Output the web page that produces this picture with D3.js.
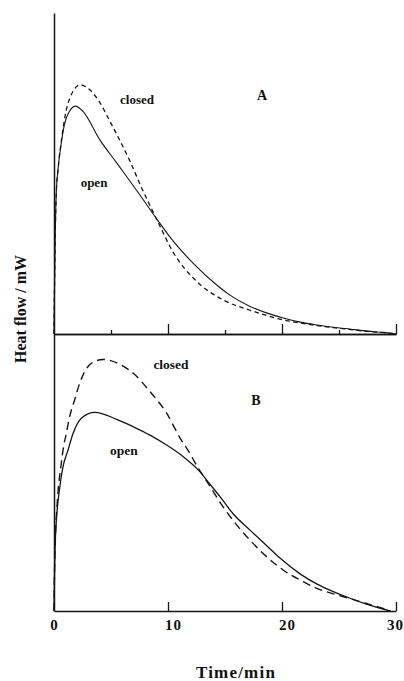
<!DOCTYPE html>
<html>
<head>
<meta charset="utf-8">
<script src="https://cdn.jsdelivr.net/npm/d3@7"></script>
<style>
  html, body { margin: 0; padding: 0; background: #fff; }
  svg { display: block; }
  text { font-family: "Liberation Serif", "DejaVu Serif", serif; font-weight: bold; fill: #111; }
</style>
</head>
<body>
<script>
// ---- Data (heat flow in arbitrary units, time in min) ----
const openA_t   = [0, 0.05, 0.1, 0.2, 0.35, 0.64, 0.94, 1.3, 1.87, 2.5, 4.04, 5.5, 7.6, 9.04, 10.53, 12.28, 14.3, 15.4, 17.2, 18.7, 20.1, 21.6, 23.1, 24.5, 26, 27.5, 28.9, 30];
const openA_v   = [0, 1.6, 2.9, 4.39, 5.11, 5.95, 6.56, 6.9, 7.10, 6.95, 6.04, 5.33, 4.3, 3.57, 2.86, 2.18, 1.52, 1.22, 0.86, 0.65, 0.50, 0.37, 0.28, 0.21, 0.15, 0.09, 0.05, 0];
const closedA_t = [0, 0.05, 0.1, 0.2, 0.35, 0.64, 1.08, 1.38, 2.31, 3.16, 4.04, 4.91, 5.79, 6.67, 7.6, 9.04, 10.53, 12.28, 14.9, 17.2, 18.7, 20.1, 21.6, 23.1, 24.5, 26, 27.5, 28.9, 30];
const closedA_v = [0, 1.6, 2.9, 4.39, 5.11, 6.0, 6.98, 7.34, 7.76, 7.60, 7.20, 6.62, 6.02, 5.38, 4.62, 3.55, 2.5, 1.72, 1.05, 0.74, 0.57, 0.44, 0.34, 0.26, 0.2, 0.14, 0.08, 0.04, 0];

const openB_t   = [0, 0.05, 0.12, 0.25, 0.5, 0.79, 1.23, 1.67, 2.4, 3.57, 5.5, 6.96, 8.42, 9.88, 11.34, 12.8, 13.5, 14.56, 15.73, 17.19, 18.68, 19.82, 21.58, 23.04, 24.5, 25.96, 27.4, 28.8, 29.5];
const openB_v   = [0, 1.5, 2.6, 3.5, 4.45, 5.21, 5.81, 6.41, 6.96, 7.17, 6.92, 6.65, 6.35, 5.99, 5.57, 5.03, 4.67, 4.13, 3.5, 2.92, 2.35, 1.91, 1.34, 0.98, 0.70, 0.46, 0.25, 0.08, 0];
const closedB_t = [0, 0.05, 0.12, 0.3, 0.64, 0.79, 1.08, 1.37, 1.81, 2.25, 2.69, 3.27, 4.3, 5.9, 6.96, 8.42, 9.88, 11.05, 11.9, 12.66, 13.5, 14.85, 16.0, 17.19, 18.68, 20.1, 21.58, 23.04, 24.5, 25.96, 27.4, 28.8, 29.5];
const closedB_v = [0, 1.5, 2.6, 4.0, 5.33, 5.81, 6.41, 7.01, 7.62, 8.22, 8.64, 8.94, 9.08, 8.88, 8.58, 7.92, 7.14, 6.25, 5.7, 5.15, 4.62, 3.75, 3.12, 2.56, 1.95, 1.48, 1.12, 0.82, 0.62, 0.45, 0.27, 0.1, 0];

const majorTicks = [10, 20, 30];
const minorTicksA = [5, 15, 25];
const bottomTickLabels = [0, 10, 20, 30];
const xLabel = "Time/min";
const yLabel = "Heat flow / mW";

// ---- Layout ----
const W = 404, H = 681;
const svg = d3.select("body").append("svg").attr("width", W).attr("height", H);

const x = d3.scaleLinear().domain([0, 30]).range([54, 396]);
const yA = d3.scaleLinear().domain([0, 10]).range([334, 13]);
const yB = d3.scaleLinear().domain([0, 10]).range([611, 334]);

const ink = "#151515";

function series(ts, vs) { return ts.map((t, i) => [t, vs[i]]); }

function drawLine(data, y, dash, w) {
  const line = d3.line().x(d => x(d[0])).y(d => y(d[1])).curve(d3.curveMonotoneX);
  svg.append("path").datum(data)
    .attr("d", line)
    .attr("fill", "none")
    .attr("stroke", ink)
    .attr("stroke-width", w)
    .attr("stroke-dasharray", dash);
}

// Curves
drawLine(series(closedA_t, closedA_v), yA, "4.5,3.5", 1.3);
drawLine(series(openA_t, openA_v), yA, null, 1.1);
drawLine(series(closedB_t, closedB_v), yB, "8,5", 1.4);
drawLine(series(openB_t, openB_v), yB, null, 1.3);

// Axes of panel A (bottom line shared with top of panel B)
function styleAxis(g) {
  g.selectAll("path.domain").attr("stroke", ink).attr("stroke-width", 1.5);
  g.selectAll(".tick line").attr("stroke", ink).attr("stroke-width", 1.3);
}
const axA = svg.append("g").attr("transform", "translate(0,334)")
  .call(d3.axisBottom(x).tickValues(majorTicks).tickSize(-10).tickSizeOuter(0).tickFormat(""));
styleAxis(axA);
const axAminor = svg.append("g").attr("transform", "translate(0,334)")
  .call(d3.axisBottom(x).tickValues(minorTicksA).tickSize(-4).tickSizeOuter(0).tickFormat(""));
styleAxis(axAminor);

// Panel B bottom axis with labels
const axB = svg.append("g").attr("transform", "translate(0,611)")
  .call(d3.axisBottom(x).tickValues(bottomTickLabels).tickSize(-9).tickSizeOuter(0).tickPadding(0).tickFormat(d3.format("d")));
styleAxis(axB);
axB.selectAll(".tick").filter(d => d === 0).select("line").remove();
axB.selectAll(".tick text")
  .attr("font-family", "Liberation Serif, serif")
  .attr("font-weight", "bold")
  .attr("font-size", 15)
  .attr("letter-spacing", "1px")
  .attr("fill", ink)
  .attr("y", 19)
  .attr("dy", 0)
  .attr("dx", d => d === 0 ? 0 : (d === 30 ? -1 : 5));

// Left y axis (no ticks) spanning both panels
const yFull = d3.scaleLinear().domain([0, 1]).range([611, 13]);
const axY = svg.append("g").attr("transform", "translate(54,0)")
  .call(d3.axisLeft(yFull).tickValues([]).tickSizeOuter(0));
styleAxis(axY);

// Axis titles
svg.append("text")
  .attr("x", 236).attr("y", 678)
  .attr("text-anchor", "middle")
  .attr("font-size", 17)
  .attr("letter-spacing", "1.2px")
  .text(xLabel);

svg.append("text")
  .attr("transform", "translate(26,309) rotate(-90)")
  .attr("text-anchor", "middle")
  .attr("font-size", 16)
  .text(yLabel);

// In-plot labels
const labels = [
  { t: "closed", x: 137, y: 104, s: 13 },
  { t: "A",      x: 262, y: 100, s: 14 },
  { t: "open",   x: 94,  y: 187, s: 13 },
  { t: "closed", x: 171, y: 369, s: 13.5 },
  { t: "B",      x: 256, y: 405, s: 14 },
  { t: "open",   x: 124, y: 455, s: 13.5 }
];
svg.selectAll("text.lbl").data(labels).enter().append("text")
  .attr("class", "lbl")
  .attr("x", d => d.x).attr("y", d => d.y)
  .attr("text-anchor", "middle")
  .attr("font-size", d => d.s)
  .text(d => d.t);
</script>
</body>
</html>
